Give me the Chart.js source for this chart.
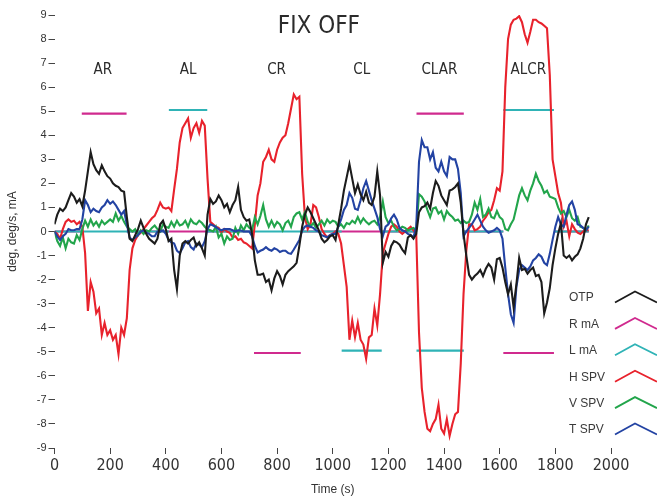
<!DOCTYPE html>
<html>
<head>
<meta charset="utf-8">
<script src="https://cdn.jsdelivr.net/npm/chart.js@4/dist/chart.umd.min.js"></script>
<style>
  html, body { margin: 0; padding: 0; background: #fff; }
  #wrap { width: 657px; height: 499px; position: relative; }
</style>
</head>
<body>
<div id="wrap"><canvas id="fixChart"></canvas></div>
<script>
// sample times (s), one every 10 s
const timeS = [
  0, 10, 20, 30, 40, 50, 60, 70, 80, 90,
  100, 110, 120, 130, 140, 150, 160, 170, 180, 190,
  200, 210, 220, 230, 240, 250, 260, 270, 280, 290,
  300, 310, 320, 330, 340, 350, 360, 370, 380, 390,
  400, 410, 420, 430, 440, 450, 460, 470, 480, 490,
  500, 510, 520, 530, 540, 550, 560, 570, 580, 590,
  600, 610, 620, 630, 640, 650, 660, 670, 680, 690,
  700, 710, 720, 730, 740, 750, 760, 770, 780, 790,
  800, 810, 820, 830, 840, 850, 860, 870, 880, 890,
  900, 910, 920, 930, 940, 950, 960, 970, 980, 990,
  1000, 1010, 1020, 1030, 1040, 1050, 1060, 1070, 1080, 1090,
  1100, 1110, 1120, 1130, 1140, 1150, 1160, 1170, 1180, 1190,
  1200, 1210, 1220, 1230, 1240, 1250, 1260, 1270, 1280, 1290,
  1300, 1310, 1320, 1330, 1340, 1350, 1360, 1370, 1380, 1390,
  1400, 1410, 1420, 1430, 1440, 1450, 1460, 1470, 1480, 1490,
  1500, 1510, 1520, 1530, 1540, 1550, 1560, 1570, 1580, 1590,
  1600, 1610, 1620, 1630, 1640, 1650, 1660, 1670, 1680, 1690,
  1700, 1710, 1720, 1730, 1740, 1750, 1760, 1770, 1780, 1790,
  1800, 1810, 1820, 1830, 1840, 1850, 1860, 1870, 1880, 1890,
  1900, 1910, 1920
];

const otp = [
  0.3, 0.7, 0.95, 0.85, 1.0, 1.3, 1.6, 1.45, 1.2, 1.35,
  1.05, 1.7, 2.5, 3.3, 2.8, 2.55, 2.4, 2.75, 2.5, 2.3,
  2.2, 2.0, 1.9, 1.85, 1.7, 1.65, 0.6, -0.3, -0.4, -0.15,
  0.1, 0.45, 0.15, -0.1, -0.3, -0.4, -0.5, -0.3, 0.3, 0.45,
  0.1, -0.4, -0.3, -1.6, -2.4, -1.0, -0.5, -0.4, -0.5, -0.35,
  -0.25, -0.6, -0.45, -0.7, -1.0, 0.7, 1.35, 1.15, 1.25, 1.5,
  1.3, 1.0, 1.15, 0.8, 1.1, 1.3, 1.85, 0.9, 0.6, 0.45,
  0.5, -0.1, -1.2, -1.8, -1.8, -1.75, -2.1, -2.0, -2.45, -1.95,
  -1.65, -1.85, -2.2, -1.8, -1.65, -1.55, -1.45, -1.3, -0.6, 0.2,
  0.7, 1.0, 0.8, 0.55, 0.3, 0.05, -0.3, -0.45, -0.35, -0.2,
  -0.15, -0.35, 0.3, 0.95, 1.7, 2.25, 2.8, 2.2, 1.6, 1.95,
  1.55, 1.3, 1.65, 1.2, 1.1, 1.45, 2.5, 1.5, -1.3, -0.85,
  -1.05, -0.6, -0.4, -0.45, -0.55, -0.75, -0.9, -0.25, -0.15, -0.3,
  -0.1, 0.8, 1.0, 1.05, 1.2, 0.95, 1.6, 2.1, 1.9, 1.5,
  1.3, 1.1, 1.7, 1.75, 1.85, 2.0, 1.2, -0.1, -1.0, -1.8,
  -2.0, -1.85, -1.75, -1.6, -1.85, -1.55, -1.35, -1.5, -2.0, -1.15,
  -1.1, -1.5, -2.1, -2.6, -2.2, -3.15, -2.2, -1.1, -1.6, -1.55,
  -1.75, -1.6, -1.5, -1.85, -1.8, -2.1, -3.4, -2.95, -2.35, -1.4,
  -0.7, -0.1, 0.35, -1.0, -1.1, -1.0, -1.2, -1.05, -0.95, -0.7,
  -0.3, 0.3, 0.6
];

const hSpv = [
  0.0, -0.1, -0.3, 0.1, 0.4, 0.5, 0.4, 0.45, 0.3, 0.4,
  0.2, -0.9, -3.3, -2.1, -2.5, -3.4, -3.2, -4.3, -3.8, -4.3,
  -4.1, -4.5, -4.3, -5.1, -4.0, -4.3, -3.6, -1.6, -0.7, -0.35,
  -0.15, -0.05, 0.1, 0.25, 0.4, 0.55, 0.65, 0.9, 1.2, 1.0,
  0.95, 1.0, 0.85, 1.75, 2.6, 3.7, 4.3, 4.5, 4.7, 3.9,
  4.3, 4.5, 4.1, 4.6, 4.4, 2.2, 0.4, 0.3, 0.2, 0.15,
  -0.05, 0.1, 0.0, -0.05, -0.25, -0.2, -0.35, -0.3, -0.45, -0.5,
  -0.6, -0.7, 0.3, 1.5, 2.0, 2.9, 3.1, 3.4, 3.0, 2.9,
  3.4, 3.7, 3.9, 4.0, 4.5, 5.1, 5.7, 5.5, 5.6, 2.4,
  0.6, 0.1, 0.3, 1.1, 1.0, 0.6, 0.1, -0.1, -0.25, -0.15,
  -0.1, 0.0, -0.1, -0.5, -1.4, -2.3, -4.5, -3.7, -4.4, -3.8,
  -4.5, -4.7, -5.3, -4.4, -4.3, -3.2, -3.9, -2.6, -0.9, -0.5,
  -0.1, 0.2, 0.3, 0.2, 0.0, -0.1, 0.0, 0.1, 0.2, 0.05,
  -0.1, -4.2, -6.5, -7.5, -8.2, -8.3, -8.0, -7.8, -7.2, -8.2,
  -8.4, -7.8, -8.5, -8.0, -7.6, -7.5, -5.5, -2.6, -0.8, 0.3,
  0.3, 0.05, 0.1, 0.2, 0.45, 0.6, 0.8, 0.9, 1.3, 1.8,
  1.7, 2.5, 6.0, 8.0, 8.6, 8.8, 8.85, 8.95, 8.7, 8.2,
  7.85, 8.3, 8.8, 8.8, 8.7, 8.65, 8.55, 8.45, 6.5, 3.0,
  2.3, 1.6, 1.2, 0.2, 0.45, -0.2, 0.3, 0.1, -0.05, -0.1,
  0.0, 0.05, 0.05
];

const vSpv = [
  0.0, -0.4, -0.6, -0.25, -0.7, -0.3, -0.45, -0.5, -0.15, -0.35,
  0.1, 0.45, 0.2, 0.5, 0.25, 0.4, 0.2, 0.45, 0.3, 0.4,
  0.5, 0.4, 0.75, 0.45, 0.65, 0.4, 0.2, 0.1, 0.0, 0.1,
  -0.15, 0.05, -0.1, 0.05, 0.0, 0.15, 0.25, 0.1, 0.0, 0.3,
  0.2, 0.15, 0.4, 0.2, 0.45, 0.25, 0.3, 0.45, 0.2, 0.5,
  0.35, 0.3, 0.45, 0.35, 0.2, 0.1, 0.05, 0.0, 0.2, -0.25,
  -0.1, -0.5, -0.2, -0.35, -0.3, 0.15, -0.1, 0.25, 0.05, 0.3,
  0.15, 0.05, 0.6, 0.3, 0.65, 1.1, 0.5, 0.2, 0.45, 0.2,
  0.4, 0.3, 0.05, 0.35, 0.45, 0.2, 0.6, 0.75, 0.8, 0.5,
  0.8, 0.4, 0.2, 0.35, 0.15, 0.3, 0.45, 0.25, 0.5, 0.35,
  0.45, 0.4, 0.2, 0.3, 0.15, 0.35, 0.3, 0.45, 0.35, 0.6,
  0.35, 0.55, 0.4, 0.3, 0.4, 0.45, 0.3, 0.6, 1.25, 0.6,
  0.35, 0.45, 0.2, 0.05, 0.1, 0.2, 0.15, 0.04, 0.1, 0.15,
  0.05, 1.55, 1.45, 1.25, 0.9, 0.6, 0.95, 1.0, 0.75, 0.85,
  0.5, 0.85, 0.7, 0.6, 0.45, 0.5, 0.35, 0.45, 0.35, 0.4,
  0.7, 1.2, 0.9, 1.35, 0.6, 0.7, 0.95, 0.6, 0.55, 0.85,
  0.6, 0.5, 0.1, 0.05, 0.3, 0.5, 1.0, 1.5, 1.8, 1.5,
  1.3, 1.7, 2.0, 2.4, 2.1, 1.9, 1.6, 1.7, 1.45, 1.4,
  1.35, 1.0, 0.75, 0.85, 0.6, 0.9, 0.55, 0.45, 0.6, 0.2,
  0.15, 0.05, 0.25
];

const tSpv = [
  0.0, -0.2, -0.35, -0.2, -0.1, 0.1, 0.05, 0.05, 0.1, 0.1,
  0.5, 1.3, 1.1, 0.8, 0.95, 0.85, 0.8, 1.0, 1.1, 1.3,
  1.15, 1.25, 1.1, 0.9, 0.7, 0.85, 0.3, -0.25, -0.35, -0.25,
  -0.15, 0.0, 0.05, -0.05, -0.1, -0.2, -0.2, 0.0, 0.0, 0.05,
  -0.1, -0.35, -0.45, -0.5, -0.8, -0.9, -0.7, -0.45, -0.4, -0.65,
  -0.75, -0.5, -0.55, -0.65, -0.4, 0.1, 0.3, 0.25, 0.18, 0.1,
  0.05, 0.1, 0.1, 0.1, 0.05, 0.0, 0.05, 0.04, 0.0, 0.0,
  0.0, -0.2, -0.6, -0.87, -0.8, -0.75, -0.65, -0.75, -0.8, -0.7,
  -0.75, -0.85, -0.8, -0.8, -0.9, -0.93, -0.75, -0.55, -0.35, 0.04,
  0.2, 0.25, 0.2, 0.15, 0.05, 0.0, -0.15, -0.2, -0.24, -0.15,
  -0.1, -0.1, 0.2, 0.5, 0.9, 1.1, 1.6, 1.4, 0.95, 0.9,
  1.3, 1.8, 2.1, 1.7, 1.3, 0.95, 0.6, 0.1, -0.2, 0.2,
  0.3, 0.55, 0.7, 0.5, 0.15, 0.05, 0.0, -0.1, -0.15, -0.24,
  0.2, 2.9, 3.8, 3.5, 3.5, 3.0, 3.3, 2.65, 2.5, 2.9,
  2.5, 2.3, 3.1, 3.0, 3.0, 2.6, 1.6, -0.2, 0.0, 0.15,
  0.3, 0.5, 0.7, 0.45, 0.2, 0.05, -0.05, 0.0, 0.05, 0.15,
  0.05, -0.3, -1.5, -2.6, -3.44, -3.8, -2.3, -1.6, -1.4, -1.5,
  -1.6, -1.45, -1.2, -1.1, -0.95, -1.05, -1.3, -1.4, -0.93, -0.35,
  0.2, 0.6, 0.3, 0.2, 0.7, 1.1, 1.25, 0.9, 0.3, 0.25,
  0.15, 0.05, 0.2
];

// stimulus blocks (s) and levels (mA)
const rmaStart = [98, 717, 1301, 1613];
const rmaEnd = [259, 885, 1471, 1795];
const rmaLevel = [4.9, -5.05, 4.9, -5.05];
const lmaStart = [411, 1032, 1301, 1613];
const lmaEnd = [549, 1176, 1471, 1795];
const lmaLevel = [5.05, -4.95, -4.95, 5.05];

const segLabels = ["AR", "AL", "CR", "CL", "CLAR", "ALCR"];
const segTimes = [174, 480, 798, 1104, 1383, 1703];
const segLevel = 6.7;
const titleText = "FIX OFF";
const titleTime = 950;
const titleLevel = 8.5;

const xTicks = [0, 200, 400, 600, 800, 1000, 1200, 1400, 1600, 1800, 2000];

function tracePoints(values) {
  return timeS.map((t, i) => ({ x: t, y: values[i] }));
}

function stimPoints(starts, ends, levels) {
  const pts = [];
  let from = 0;
  starts.forEach((s, i) => {
    pts.push({ x: from, y: 0 }, { x: s, y: 0 }, { x: s, y: null });
    pts.push({ x: s, y: levels[i] }, { x: ends[i], y: levels[i] }, { x: ends[i], y: null });
    from = ends[i];
  });
  pts.push({ x: from, y: 0 }, { x: timeS[timeS.length - 1], y: 0 });
  return pts;
}

const narrowFont = '"Liberation Sans Narrow", "DejaVu Sans Condensed", "Liberation Sans", sans-serif';
const plainFont = '"Liberation Sans", "Open Sans", sans-serif';

const overlayText = {
  id: "overlayText",
  afterDatasetsDraw(chart) {
    const { ctx, scales } = chart;
    const x = scales.x, y = scales.y;
    ctx.save();
    ctx.fillStyle = "#2b2b2b";
    ctx.textAlign = "center";
    ctx.textBaseline = "middle";
    ctx.font = "24px " + narrowFont;
    ctx.fillText(titleText, x.getPixelForValue(titleTime), y.getPixelForValue(titleLevel));
    ctx.font = "15px " + narrowFont;
    segLabels.forEach((lab, i) => {
      ctx.fillText(lab, x.getPixelForValue(segTimes[i]), y.getPixelForValue(segLevel));
    });

    // legend: label then a chevron in the series colour
    ctx.textAlign = "left";
    ctx.font = "12px " + plainFont;
    chart.data.datasets.forEach((ds, i) => {
      const cy = 298 + i * 26.4;
      ctx.fillStyle = "#3a3a3a";
      ctx.fillText(ds.label, 569, cy);
      ctx.strokeStyle = ds.borderColor;
      ctx.lineWidth = 1.8;
      ctx.beginPath();
      ctx.moveTo(615, cy + 4.5);
      ctx.lineTo(635, cy - 6.5);
      ctx.lineTo(657, cy + 4.5);
      ctx.stroke();
    });
    ctx.restore();
  }
};

const traceStyle = { pointRadius: 0, borderWidth: 2.1, tension: 0, fill: false, spanGaps: false };

new Chart(document.getElementById("fixChart"), {
  type: "line",
  data: {
    datasets: [
      { label: "OTP", data: tracePoints(otp), borderColor: "#1c1c1c", order: 0, ...traceStyle },
      { label: "R mA", data: stimPoints(rmaStart, rmaEnd, rmaLevel), borderColor: "#d02a8e", order: 5, ...traceStyle, borderWidth: 2.2 },
      { label: "L mA", data: stimPoints(lmaStart, lmaEnd, lmaLevel), borderColor: "#2fb3b6", order: 4, ...traceStyle, borderWidth: 2.2 },
      { label: "H SPV", data: tracePoints(hSpv), borderColor: "#e8222c", order: 3, ...traceStyle },
      { label: "V SPV", data: tracePoints(vSpv), borderColor: "#22a54b", order: 2, ...traceStyle },
      { label: "T SPV", data: tracePoints(tSpv), borderColor: "#2343a3", order: 1, ...traceStyle }
    ]
  },
  options: {
    responsive: true,
    maintainAspectRatio: false,
    animation: false,
    devicePixelRatio: 1,
    layout: { padding: { top: 15, right: 46, left: 0, bottom: 0 } },
    plugins: { legend: { display: false }, tooltip: { enabled: false } },
    scales: {
      x: {
        type: "linear",
        min: 0,
        max: 2000,
        afterBuildTicks: s => { s.ticks = xTicks.map(v => ({ value: v })); },
        afterFit: s => { s.height = 51; },
        border: { display: false },
        grid: { drawOnChartArea: false, drawTicks: true, tickLength: 6, color: "#444", lineWidth: 1 },
        ticks: { color: "#333", font: { family: narrowFont, size: 16 }, padding: 2, maxRotation: 0, callback: v => String(v) },
        title: { display: true, text: "Time (s)", color: "#333", font: { family: plainFont, size: 12 }, padding: { top: 0, bottom: 2 } }
      },
      y: {
        min: -9,
        max: 9,
        afterFit: s => { s.width = 54.5; },
        border: { display: false },
        grid: { drawOnChartArea: false, drawTicks: true, tickLength: 6, color: "#444", lineWidth: 1 },
        ticks: { stepSize: 1, color: "#333", font: { family: plainFont, size: 11 }, padding: 2, callback: v => String(v) },
        title: { display: true, text: "deg, deg/s, mA", color: "#333", font: { family: plainFont, size: 12 }, padding: { top: 5, bottom: 0 } }
      }
    }
  },
  plugins: [overlayText]
});
</script>
</body>
</html>
